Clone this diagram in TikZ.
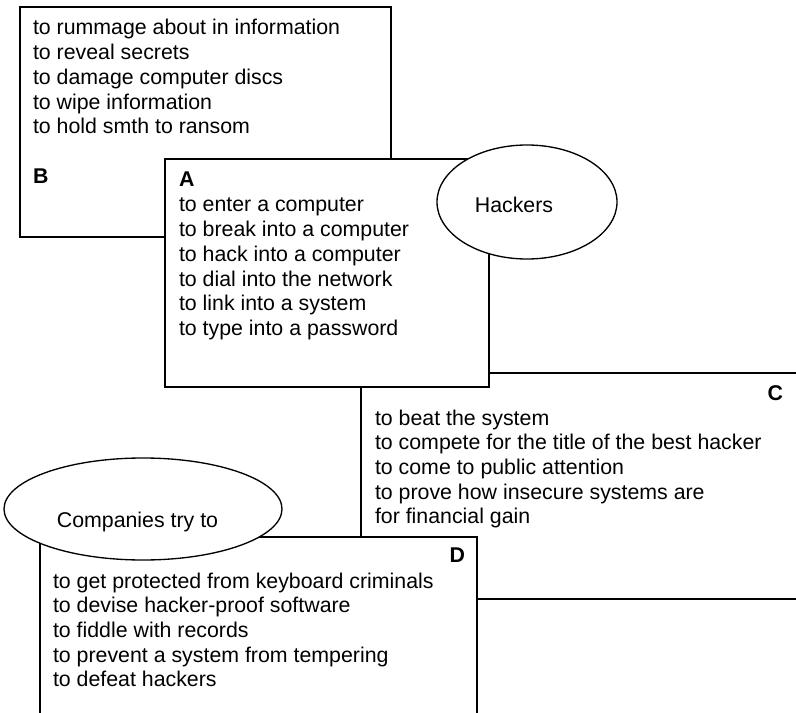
\documentclass[tikz,border=0pt]{standalone}
\usepackage{fontspec}
\setmainfont{Liberation Sans}
\usetikzlibrary{shapes.geometric}
\begin{document}
\begin{tikzpicture}[x=0.75pt,y=-0.75pt,
  panel/.style={draw, fill=white, line width=1pt, rectangle, inner sep=0pt, outer sep=0pt},
  oval/.style={draw, fill=white, line width=1pt, ellipse, inner sep=0pt, outer sep=0pt},
  words/.style={inner sep=0pt, outer sep=0pt, anchor=base west, font=\fontsize{16}{18.5}\selectfont},
  tag/.style={inner sep=0pt, outer sep=0pt, anchor=base west, font=\fontsize{16}{18.5}\selectfont\bfseries},
  title/.style={inner sep=0pt, outer sep=0pt, anchor=base, font=\fontsize{16}{18.5}\selectfont}]
\useasboundingbox (0,0) rectangle (796,713);
\clip (0,0) rectangle (796,713);

% box B: what hackers do once inside
\node[panel, minimum width=278.25pt, minimum height=172.5pt] (boxB) at (205.5,122) {};
\foreach \t [count=\i from 0] in {to rummage about in information, to reveal secrets,
    to damage computer discs, to wipe information, to hold smth to ransom}
  \node[words] (b\i) at (33,35+24.7*\i) {\t};
\node[tag] (labB) at (33,184) {B};

% box C: motives
\node[panel, minimum width=351.75pt, minimum height=169.5pt] (boxC) at (595.5,486) {};
\node[tag, anchor=base east] (labC) at (783,400) {C};
\foreach \t [count=\i from 0] in {to beat the system, to compete for the title of the best hacker,
    to come to public attention, to prove how insecure systems are, for financial gain}
  \node[words] (c\i) at (375,425+24.7*\i) {\t};

% box A: getting in
\node[panel, minimum width=243pt, minimum height=171pt] (boxA) at (327,273) {};
\node[tag] (labA) at (179,187) {A};
\foreach \t [count=\i from 0] in {to enter a computer, to break into a computer,
    to hack into a computer, to dial into the network, to link into a system,
    to type into a password}
  \node[words] (a\i) at (179,212+24.7*\i) {\t};

% central oval
\node[oval, minimum width=135pt, minimum height=85.5pt] (hackers) at (527,202) {};
\node[title] (hackersText) at (514,213) {Hackers};

% box D: defence
\node[panel, minimum width=327.75pt, minimum height=156pt] (boxD) at (258.5,641) {};
\node[tag, anchor=base east] (labD) at (465,562) {D};
\foreach \t [count=\i from 0] in {to get protected from keyboard criminals,
    to devise hacker-proof software, to fiddle with records,
    to prevent a system from tempering, to defeat hackers}
  \node[words] (d\i) at (53,588+24.7*\i) {\t};

% companies oval
\node[oval, minimum width=208.5pt, minimum height=76.5pt] (companies) at (143,509) {};
\node[title] (companiesText) at (137.5,527) {Companies try to};
\end{tikzpicture}
\end{document}
